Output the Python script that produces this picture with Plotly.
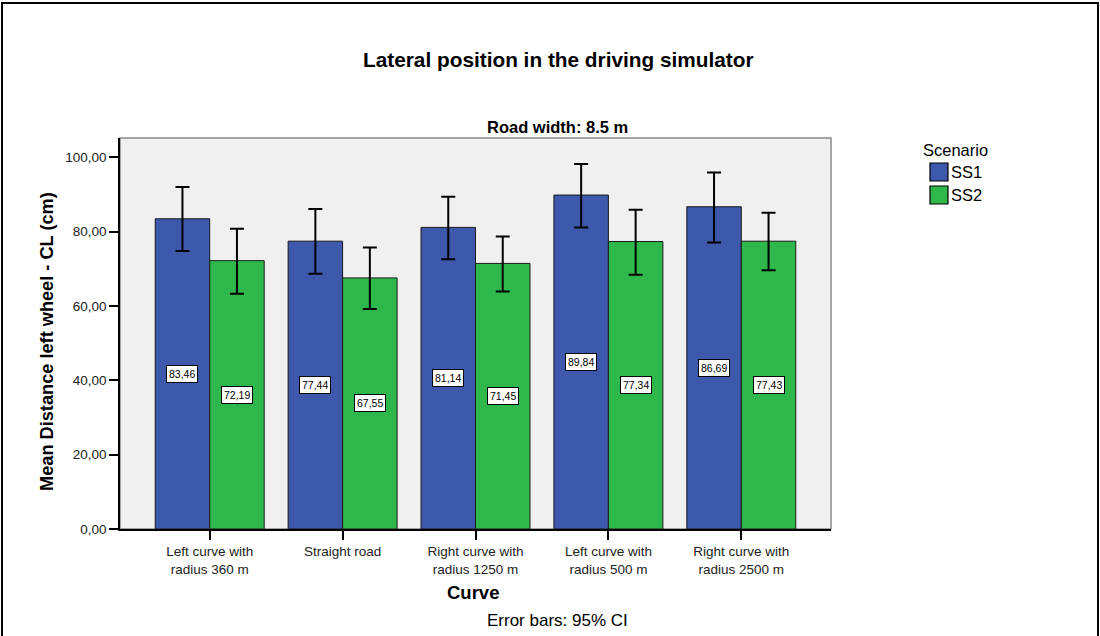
import plotly.graph_objects as go

# Data: mean lateral position (cm) with 95% confidence limits, by curve and scenario
curves = [
    "Left curve with<br>radius 360 m",
    "Straight road",
    "Right curve with<br>radius 1250 m",
    "Left curve with<br>radius 500 m",
    "Right curve with<br>radius 2500 m",
]
ss1_mean = [83.46, 77.44, 81.14, 89.84, 86.69]
ss1_low = [74.8, 68.7, 72.6, 81.1, 77.1]
ss1_high = [92.0, 86.1, 89.4, 98.2, 95.9]
ss2_mean = [72.19, 67.55, 71.45, 77.34, 77.43]
ss2_low = [63.3, 59.2, 63.9, 68.4, 69.6]
ss2_high = [80.8, 75.7, 78.7, 85.9, 85.1]
y_ticks = [0, 20, 40, 60, 80, 100]

W, H = 1100, 636
L, R, T, B = 120, 831, 138, 529  # plot area in pixels
FONT = "Arial, Liberation Sans, sans-serif"
BLUE = "#3E58AC"
GREEN = "#2EB84B"
BARGAP = 0.18
half = (1 - BARGAP) / 4  # offset of each bar centre from the group centre


def px(x):
    return (x - L) / (R - L)


def py(y):
    return (B - y) / (B - T)


def label(x, y, text, size, xanchor="center", **kw):
    return dict(x=px(x), y=py(y), xref="paper", yref="paper", showarrow=False,
                xanchor=xanchor, yanchor="middle", text=text,
                font=dict(family=FONT, size=size, color="black"), **kw)


xs = list(range(len(curves)))

fig = go.Figure()
for name, mean, lo, hi, color in [
    ("SS1", ss1_mean, ss1_low, ss1_high, BLUE),
    ("SS2", ss2_mean, ss2_low, ss2_high, GREEN),
]:
    fig.add_trace(go.Bar(
        x=xs, y=mean, name=name,
        marker=dict(color=color, line=dict(color="#1a1a1a", width=1)),
        error_y=dict(
            type="data", symmetric=False,
            array=[h - m for h, m in zip(hi, mean)],
            arrayminus=[m - l for m, l in zip(mean, lo)],
            color="black", thickness=2, width=7,
        ),
        showlegend=False,
    ))

annotations = []
# value labels at mid-height of each bar
for means, off in [(ss1_mean, -half), (ss2_mean, half)]:
    for i, v in enumerate(means):
        annotations.append(dict(
            x=i + off, y=v / 2, xref="x", yref="y",
            xanchor="center", yanchor="middle",
            text=f"{v:.2f}".replace(".", ","), showarrow=False,
            font=dict(family=FONT, size=10.5, color="black"),
            bgcolor="white", bordercolor="black", borderwidth=1, borderpad=2,
        ))

annotations += [
    label(558, 60, "<b>Lateral position in the driving simulator</b>", 20.8),
    label(557, 127, "<b>Road width: 8.5 m</b>", 16.5),
    label(47, 342, "<b>Mean Distance left wheel - CL (cm)</b>", 18.2,
          textangle=-90),
    label(473, 592, "<b>Curve</b>", 18.5),
    label(557, 620, "Error bars: 95% CI", 17),
    # legend
    label(921, 150, "Scenario", 16.5, xanchor="left"),
    label(949, 172, "SS1", 16.5, xanchor="left"),
    label(949, 195, "SS2", 16.5, xanchor="left"),
]

shapes = [
    # grey frame of the plot area
    dict(type="rect", xref="paper", yref="paper", x0=0, x1=1, y0=0, y1=1,
         line=dict(color="#8a8a8a", width=1.5), layer="below"),
    # outer border of the chart
    dict(type="rect", xref="paper", yref="paper",
         x0=px(2), x1=px(1098), y0=py(650), y1=py(3),
         line=dict(color="black", width=2)),
    # legend swatches
    dict(type="rect", xref="paper", yref="paper",
         x0=px(930), x1=px(948), y0=py(181), y1=py(163),
         fillcolor=BLUE, line=dict(color="black", width=1.2)),
    dict(type="rect", xref="paper", yref="paper",
         x0=px(930), x1=px(948), y0=py(204), y1=py(186),
         fillcolor=GREEN, line=dict(color="black", width=1.2)),
]

fig.update_layout(
    width=W, height=H,
    margin=dict(l=L, r=W - R, t=T, b=H - B, pad=0),
    paper_bgcolor="white", plot_bgcolor="#F0F0F0",
    barmode="group", bargap=BARGAP, bargroupgap=0,
    separators=",.",
    font=dict(family=FONT, color="black"),
    annotations=annotations, shapes=shapes,
    xaxis=dict(
        range=[-0.675, len(curves) - 1 + 0.675],
        tickmode="array", tickvals=xs, ticktext=curves,
        ticks="outside", ticklen=9, tickwidth=1.5, tickcolor="black",
        tickfont=dict(family=FONT, size=13.5, color="#222"),
        showline=True, linecolor="black", linewidth=1.5,
        showgrid=False, zeroline=False, fixedrange=True,
    ),
    yaxis=dict(
        range=[0, (B - T) / ((B - 157.3) / 100)],
        tickmode="array", tickvals=y_ticks, tickformat=".2f",
        ticks="outside", ticklen=9, tickwidth=1.5, tickcolor="black",
        tickfont=dict(family=FONT, size=13.5, color="#222"),
        showline=True, linecolor="black", linewidth=1.5,
        showgrid=False, zeroline=False, fixedrange=True,
    ),
    showlegend=False,
)

fig.write_html("out.html")
